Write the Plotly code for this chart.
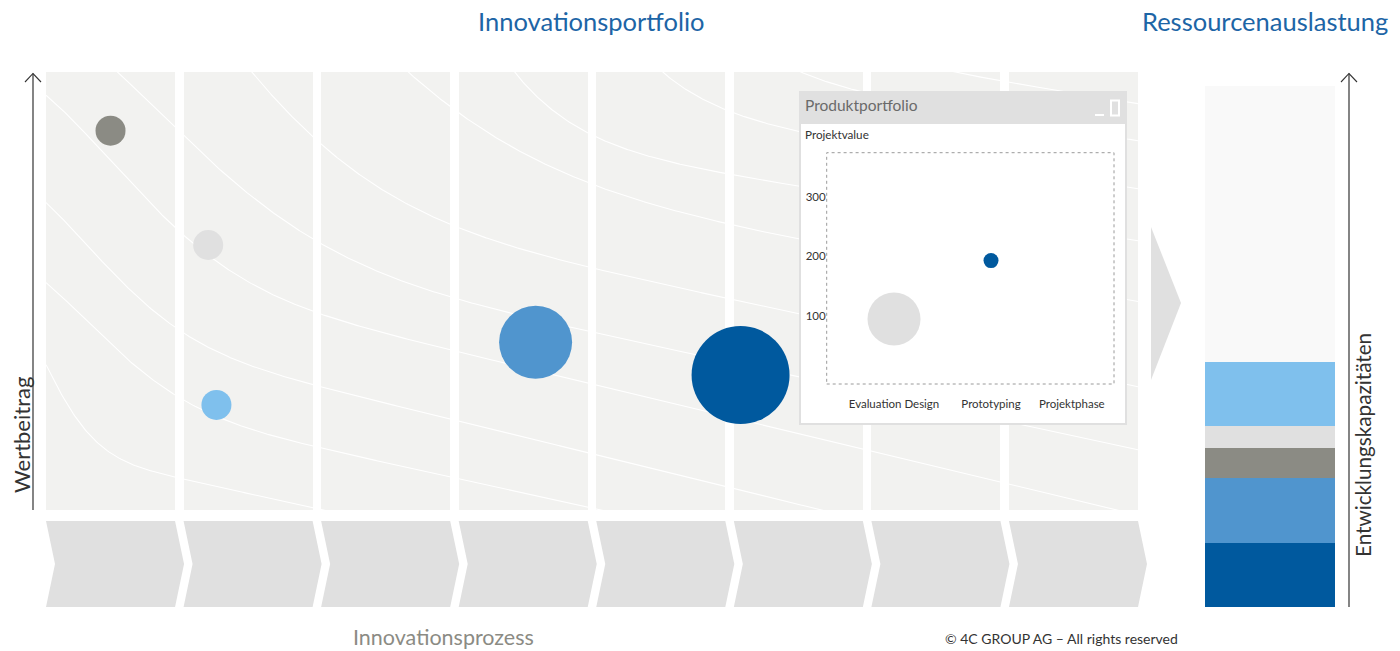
import numpy as np
import plotly.graph_objects as go

W, H = 1400, 651
FONT = "Lato, 'Open Sans', sans-serif"

# ---------------- data ----------------
phases = [1, 2, 3, 4, 5, 6, 7, 8]
phase_fill = [100, 100, 100, 100, 100, 100, 100, 100]

projects = ["Projekt A", "Projekt B", "Projekt C", "Projekt D", "Projekt E"]
project_phase = [1.00, 1.71, 1.77, 4.09, 5.58]
project_value = [86.6, 60.5, 24.0, 38.3, 30.8]
project_size = [30, 30, 30, 73, 98]
project_color = ["#8b8b84", "#e0e0e0", "#7fc0ed", "#5095ce", "#00599e"]

capacity_labels = ["Projekt E", "Projekt D", "Projekt A", "Projekt B", "Projekt C", "frei"]
capacity_values = [12.2, 12.5, 5.8, 4.2, 12.3, 53.0]
capacity_colors = ["#00599e", "#5095ce", "#8b8b84", "#e0e0e0", "#7fc0ed", "#f9f9f9"]

inset_tick_vals = [1, 2]
inset_tick_text = ["Evaluation Design", "Prototyping"]
inset_phase = [1, 2]
inset_value = [95, 193]
inset_size = [53, 15]
inset_color = ["#e0e0e0", "#00599e"]
inset_y_ticks = [100, 200, 300]

# decorative background iso-lines (shape parameters, pixel-like units)
iso_level = [61, 122, 190, 257, 295, 358, 405, 444, 496, 544, 581]
iso_tilt = [0.22, 0.22, 0.245, 0.24, 0.215, 0.215, 0.18, 0.16, 0.16, 0.16, 0.16]
iso_bend = [160, 126, 140, 177, 214, 353, 459, 4580, 13950, 23600, 22950]
iso_width = [75, 142, 143, 177, 240, 260, 340, 258, 280, 300, 320]

# ---------------- layout geometry ----------------
def fx(p):
    return p / W


def fy(p):
    return 1 - p / H


MAIN_L, MAIN_R, MAIN_T, MAIN_B = 46, 1138, 72, 510
BAR_W = 0.938
XR = [1 - BAR_W / 2, 8 + BAR_W / 2]
PPX = (MAIN_R - MAIN_L) / (XR[1] - XR[0])
PPY = (MAIN_B - MAIN_T) / 100.0

fig = go.Figure()

# columns of the innovation portfolio
fig.add_trace(go.Bar(x=phases, y=phase_fill, width=BAR_W,
                     marker=dict(color="#f2f2f0", line=dict(width=0)),
                     hoverinfo="skip", xaxis="x", yaxis="y"))

# decorative white iso-lines
lx, ly = [], []
Xpx = np.linspace(0, MAIN_R - MAIN_L, 800)
for a, k, kb, s in zip(iso_level, iso_tilt, iso_bend, iso_width):
    yup = a - k * Xpx + kb * np.exp(-((Xpx + 60) / s) ** 2)
    lx += list(XR[0] + Xpx / PPX) + [None]
    ly += list(yup / PPY) + [None]
fig.add_trace(go.Scatter(x=lx, y=ly, mode="lines",
                         line=dict(color="white", width=1.1),
                         hoverinfo="skip", xaxis="x", yaxis="y"))

# project bubbles
fig.add_trace(go.Scatter(x=project_phase, y=project_value, mode="markers",
                         text=projects,
                         marker=dict(size=project_size, sizemode="diameter",
                                     color=project_color, opacity=1,
                                     line=dict(width=0)),
                         xaxis="x", yaxis="y"))

# resource utilisation stacked bar
for lab, val, col in zip(capacity_labels, capacity_values, capacity_colors):
    fig.add_trace(go.Bar(x=[0], y=[val], width=1, name=lab,
                         marker=dict(color=col, line=dict(width=0)),
                         xaxis="x2", yaxis="y2"))

# frame subplot for inset window (white body)
fig.add_trace(go.Scatter(x=[0.5], y=[0.5], mode="markers",
                         marker=dict(opacity=0), hoverinfo="skip",
                         xaxis="x3", yaxis="y3"))

# inset bubble chart
fig.add_trace(go.Scatter(x=inset_phase, y=inset_value, mode="markers",
                         marker=dict(size=inset_size, sizemode="diameter",
                                     color=inset_color, opacity=1,
                                     line=dict(width=0)),
                         xaxis="x4", yaxis="y4"))

# process chevrons
CH_R = 1150
notch = 9 / PPX
for p in phases:
    L, R = p - BAR_W / 2, p + BAR_W / 2
    fig.add_trace(go.Scatter(
        x=[L, R, R + notch, R, L, L + notch, L],
        y=[1, 1, 0.5, 0, 0, 0.5, 1],
        mode="lines", fill="toself", fillcolor="#e0e0e0",
        line=dict(width=0, color="#e0e0e0"), hoverinfo="skip",
        xaxis="x5", yaxis="y5"))

hidden = dict(visible=False, fixedrange=True)
fig.update_layout(
    width=W, height=H, autosize=False,
    margin=dict(l=0, r=0, t=0, b=0),
    paper_bgcolor="white", plot_bgcolor="white",
    showlegend=False, barmode="stack", hovermode=False,
    font=dict(family=FONT, color="#333333"),
    xaxis=dict(domain=[fx(MAIN_L), fx(MAIN_R)], range=XR, anchor="y", **hidden),
    yaxis=dict(domain=[fy(MAIN_B), fy(MAIN_T)], range=[0, 100], anchor="x", **hidden),
    xaxis2=dict(domain=[fx(1205), fx(1335)], range=[-0.5, 0.5], anchor="y2", **hidden),
    yaxis2=dict(domain=[fy(607), fy(86)], range=[0, 100], anchor="x2", **hidden),
    xaxis3=dict(domain=[fx(799), fx(1127)], range=[0, 1], anchor="y3", **hidden),
    yaxis3=dict(domain=[fy(425), fy(91)], range=[0, 1], anchor="x3", **hidden),
    xaxis4=dict(domain=[fx(826.7), fx(1114)], range=[0.306, 3.268], anchor="y4",
                tickvals=inset_tick_vals, ticktext=inset_tick_text,
                showgrid=False, zeroline=False, showline=False, ticks="",
                ticklabelstandoff=11, tickfont=dict(size=11.5, color="#333333"),
                fixedrange=True),
    yaxis4=dict(domain=[fy(384), fy(152.7)], range=[-14, 374], anchor="x4",
                tickvals=inset_y_ticks, showgrid=False, zeroline=False,
                showline=False, ticks="", tickfont=dict(size=11.5, color="#333333"),
                fixedrange=True),
    xaxis5=dict(domain=[fx(MAIN_L), fx(CH_R)],
                range=[XR[0], XR[0] + (CH_R - MAIN_L) / PPX], anchor="y5", **hidden),
    yaxis5=dict(domain=[fy(607), fy(521)], range=[0, 1], anchor="x5", **hidden),
)


def P(x, y):
    return f"{fx(x):.5f},{fy(y):.5f}"


shapes = []
# big arrow towards resources
shapes.append(dict(type="path", xref="paper", yref="paper",
                   path=f"M {P(1151,227)} L {P(1181,303)} L {P(1151,380)} Z",
                   fillcolor="#e0e0e0", line=dict(width=0), layer="below"))
# left axis arrow
shapes.append(dict(type="line", xref="paper", yref="paper",
                   x0=fx(33), x1=fx(33), y0=fy(MAIN_B), y1=fy(73.5),
                   line=dict(color="#333333", width=1.2)))
shapes.append(dict(type="path", xref="paper", yref="paper",
                   path=f"M {P(25,82)} L {P(33,73.5)} L {P(41,82)}",
                   line=dict(color="#333333", width=1.1)))
# right axis arrow
shapes.append(dict(type="line", xref="paper", yref="paper",
                   x0=fx(1349), x1=fx(1349), y0=fy(607), y1=fy(73.5),
                   line=dict(color="#333333", width=1.2)))
shapes.append(dict(type="path", xref="paper", yref="paper",
                   path=f"M {P(1341,82)} L {P(1349,73.5)} L {P(1357,82)}",
                   line=dict(color="#333333", width=1.1)))
# inset window decorations
shapes.append(dict(type="rect", xref="paper", yref="paper",
                   x0=fx(799), x1=fx(1127), y0=fy(124), y1=fy(91),
                   fillcolor="#e0e0e0", line=dict(width=0), layer="above"))
shapes.append(dict(type="rect", xref="paper", yref="paper",
                   x0=fx(800), x1=fx(1126), y0=fy(424), y1=fy(92),
                   line=dict(color="#e0e0e0", width=2), layer="above"))
shapes.append(dict(type="line", xref="paper", yref="paper",
                   x0=fx(1095), x1=fx(1104), y0=fy(115), y1=fy(115),
                   line=dict(color="white", width=2), layer="above"))
shapes.append(dict(type="rect", xref="paper", yref="paper",
                   x0=fx(1111), x1=fx(1119), y0=fy(115.5), y1=fy(100.5),
                   line=dict(color="white", width=2), layer="above"))
shapes.append(dict(type="rect", xref="paper", yref="paper",
                   x0=fx(826.7), x1=fx(1114), y0=fy(384), y1=fy(152.7),
                   line=dict(color="#9a9a9a", width=1, dash="dot"), layer="above"))
fig.update_layout(shapes=shapes)


def txt(text, x, y, size, color, xanchor="center", angle=0):
    return dict(text=text, x=fx(x), y=fy(y), xref="paper", yref="paper",
                showarrow=False, xanchor=xanchor, yanchor="middle",
                textangle=angle, font=dict(family=FONT, size=size, color=color))


annotations = [
    txt("Innovationsportfolio", 591.5, 21, 25.5, "#1d65a6"),
    txt("Ressourcenauslastung", 1265, 21, 25.5, "#1d65a6"),
    txt("Wertbeitrag", 21, 435, 22, "#333333", angle=-90),
    txt("Entwicklungskapazitäten", 1363, 445, 20.7, "#333333", angle=-90),
    txt("Innovationsprozess", 444, 637, 21.5, "#8b8b84"),
    txt("© 4C GROUP AG – All rights reserved", 1061, 638, 14, "#333333"),
    txt("Produktportfolio", 803, 105, 15.5, "#6a6a6a", xanchor="left"),
    txt("Projektvalue", 803, 134, 11.7, "#333333", xanchor="left"),
    txt("Projektphase", 1107, 403, 11.5, "#333333", xanchor="right"),
]
fig.update_layout(annotations=annotations)

fig.write_html("out.html", config={"displayModeBar": False},
               post_script="document.body.style.margin='0';"
                           "document.body.style.overflow='hidden';")
